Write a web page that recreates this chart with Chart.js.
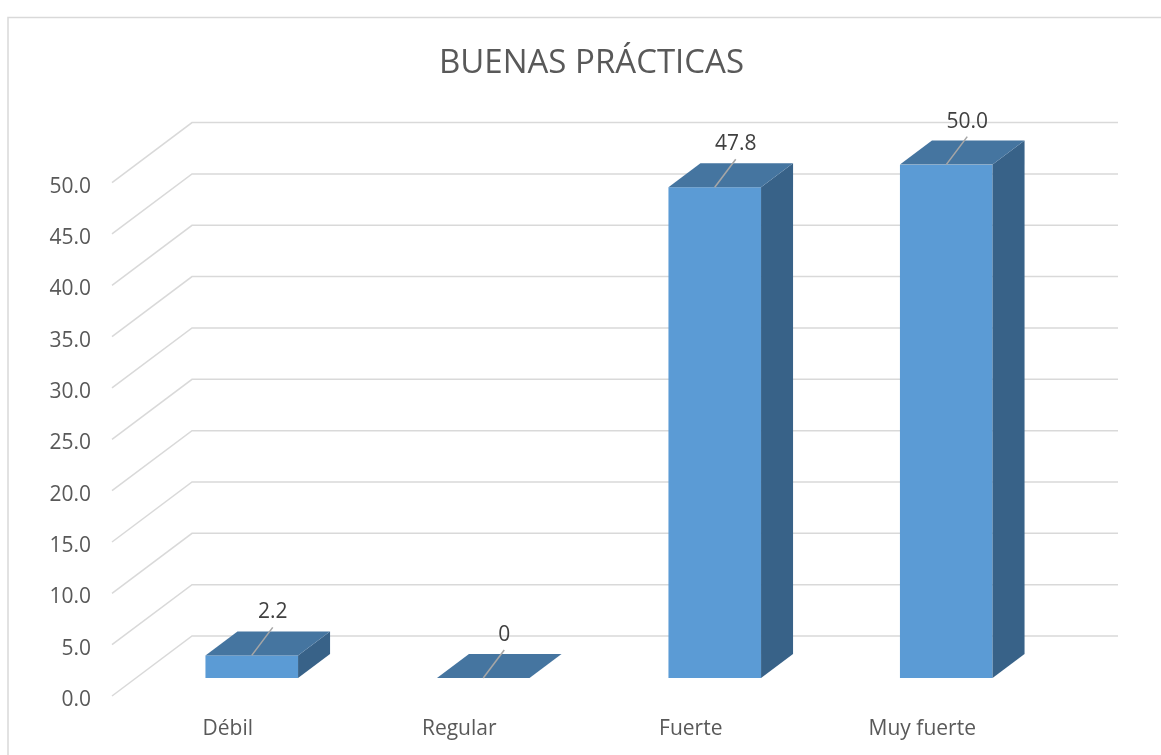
<!DOCTYPE html>
<html>
<head>
<meta charset="utf-8">
<script src="https://cdn.jsdelivr.net/npm/chart.js@4.4.1/dist/chart.umd.min.js"></script>
<style>
  html, body { margin: 0; padding: 0; background: #fff; }
  #wrap { width: 1161px; height: 755px; }
</style>
</head>
<body>
<div id="wrap"><canvas id="chart"></canvas></div>
<script>
const categories = ["Débil", "Regular", "Fuerte", "Muy fuerte"];
const values = [2.2, 0, 47.8, 50.0];
const title = "BUENAS PRÁCTICAS";

// fake 3D: floor depth offset and the bar slab inside it
const DEPTH_X = 80, DEPTH_Y = -60;
const BAR_FRONT = 0.3, BAR_BACK = 0.7;

const FONT = "'Open Sans', 'Liberation Sans', sans-serif";

const frame3d = {
  id: "frame3d",
  beforeDraw(chart) {
    const ctx = chart.ctx;
    ctx.save();
    ctx.fillStyle = "#fff";
    ctx.fillRect(0, 0, chart.width, chart.height);
    ctx.strokeStyle = "#d9d9d9";
    ctx.lineWidth = 1.5;
    ctx.beginPath();
    ctx.moveTo(8, chart.height);
    ctx.lineTo(8, 17.5);
    ctx.lineTo(chart.width, 17.5);
    ctx.stroke();
    ctx.restore();
  },
  beforeDatasetsDraw(chart) {
    // perspective gridlines: side wall + back wall
    const ctx = chart.ctx;
    const y = chart.scales.y;
    const area = chart.chartArea;
    ctx.save();
    ctx.strokeStyle = "#d9d9d9";
    ctx.lineWidth = 1.5;
    y.ticks.forEach((t) => {
      const py = y.getPixelForValue(t.value);
      ctx.beginPath();
      ctx.moveTo(area.left, py);
      ctx.lineTo(area.left + DEPTH_X, py + DEPTH_Y);
      ctx.lineTo(area.right + DEPTH_X, py + DEPTH_Y);
      ctx.stroke();
    });
    ctx.restore();
  },
  beforeDatasetDraw(chart) {
    chart.ctx.save();
    chart.ctx.translate(DEPTH_X * BAR_FRONT, DEPTH_Y * BAR_FRONT);
  },
  afterDatasetDraw(chart, args) {
    const ctx = chart.ctx;
    const meta = args.meta;
    const dx = DEPTH_X * (BAR_BACK - BAR_FRONT);
    const dy = DEPTH_Y * (BAR_BACK - BAR_FRONT);
    meta.data.forEach((bar) => {
      const x1 = bar.x - bar.width / 2, x2 = bar.x + bar.width / 2;
      const yt = bar.y, yb = bar.base;
      // side
      ctx.fillStyle = "#386288";
      ctx.beginPath();
      ctx.moveTo(x2, yt);
      ctx.lineTo(x2 + dx, yt + dy);
      ctx.lineTo(x2 + dx, yb + dy);
      ctx.lineTo(x2, yb);
      ctx.closePath();
      ctx.fill();
      // top
      ctx.fillStyle = "#4575a0";
      ctx.beginPath();
      ctx.moveTo(x1, yt);
      ctx.lineTo(x2, yt);
      ctx.lineTo(x2 + dx, yt + dy);
      ctx.lineTo(x1 + dx, yt + dy);
      ctx.closePath();
      ctx.fill();
    });
    // data labels with leader lines
    meta.data.forEach((bar, i) => {
      const v = values[i];
      const ex = bar.x + 21, ey = bar.y - 28;
      ctx.strokeStyle = "#a6a6a6";
      ctx.lineWidth = 1.5;
      ctx.beginPath();
      ctx.moveTo(bar.x, bar.y);
      ctx.lineTo(ex, ey);
      ctx.stroke();
      ctx.fillStyle = "#404040";
      ctx.font = "21px " + FONT;
      ctx.textAlign = "center";
      ctx.textBaseline = "middle";
      ctx.fillText(v === 0 ? "0" : v.toFixed(1), ex, ey - 15);
    });
    ctx.restore();
  },
};

new Chart("chart", {
  type: "bar",
  data: {
    labels: categories,
    datasets: [{
      data: values,
      backgroundColor: "#5b9bd5",
      borderWidth: 0,
      barPercentage: 0.4,
      categoryPercentage: 1.0,
    }],
  },
  options: {
    responsive: true,
    maintainAspectRatio: false,
    animation: false,
    layout: { padding: { left: 22, right: 0, top: 0, bottom: 0 } },
    plugins: {
      legend: { display: false },
      tooltip: { enabled: false },
      title: {
        display: true,
        text: title,
        color: "#595959",
        font: { family: FONT, size: 33, weight: "normal" },
        padding: { top: 44, bottom: 99 },
      },
    },
    scales: {
      x: {
        grid: { display: false, drawTicks: false },
        border: { display: false },
        ticks: { color: "#595959", font: { family: FONT, size: 21 }, padding: 20 },
        afterFit(s) { s.height = 59; },
      },
      y: {
        min: 0,
        max: 50,
        grid: { display: false, drawTicks: false },
        border: { display: false },
        ticks: {
          stepSize: 5,
          color: "#595959",
          font: { family: FONT, size: 21 },
          padding: 21,
          labelOffset: 4,
          callback: (v) => v.toFixed(1),
        },
        afterFit(s) { s.width = 90; },
      },
      // empty right-hand spacer so the front plane ends at x=1038
      spacer: {
        type: "linear",
        position: "right",
        grid: { display: false, drawTicks: false },
        border: { display: false },
        ticks: { display: false },
        afterFit(s) { s.width = 123; },
      },
    },
  },
  plugins: [frame3d],
});
</script>
</body>
</html>
